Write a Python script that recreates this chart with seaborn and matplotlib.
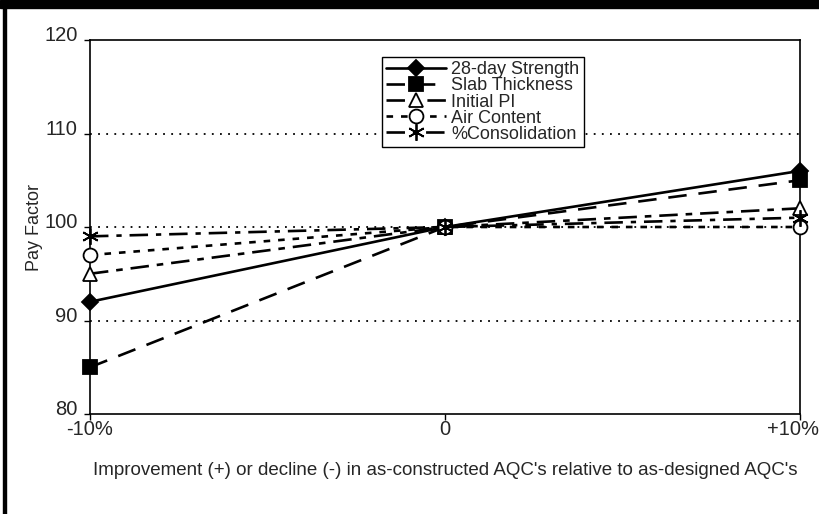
#!/usr/bin/env python3

import matplotlib.pyplot as plt
import matplotlib.patches as mpatches
import matplotlib.transforms as mtransforms
import numpy as np
import pandas as pd
import seaborn as sns

sns.set_style("white")
plt.rcParams['font.family'] = ['Liberation Sans', 'DejaVu Sans']

# data
x_pos = [-10, 0, 10]
x_labels = ['-10%', '0', '+10%']
strength = [92, 100, 106]
slab = [85, 100, 105]
initial_pi = [95, 100, 102]
air = [97, 100, 100]
consolidation = [99, 100, 101]

series = ['28-day Strength', 'Slab Thickness', 'Initial PI', 'Air Content', '%Consolidation']
values = [strength, slab, initial_pi, air, consolidation]

df = pd.DataFrame({
    'x': x_pos * len(series),
    'pay': np.concatenate(values),
    'series': np.repeat(series, len(x_pos)),
})

styles = {
    '28-day Strength': dict(ls='-', marker='D', mfc='black', ms=8.5),
    'Slab Thickness': dict(ls=(0, (7, 4.5)), marker='s', mfc='black', ms=9.5),
    'Initial PI': dict(ls=(0, (7, 3, 2.5, 3)), marker='^', mfc='white', ms=10),
    'Air Content': dict(ls=(0, (2.5, 3)), marker='o', mfc='white', ms=10),
    '%Consolidation': dict(ls=(0, (7, 3, 2, 3)), marker=(6, 2, 0), mfc='black', ms=12),
}

fig = plt.figure(figsize=(8.2, 5.14), dpi=100)
ax = fig.add_axes([90 / 820, 1 - 414 / 514, 710 / 820, 374 / 514])

# dotted gridlines
for g in [90, 100, 110]:
    ax.axhline(g, color='black', lw=1.3, ls=(0, (1, 3.5)), zorder=1)

for name in series:
    st = styles[name]
    sns.lineplot(ax=ax, data=df[df['series'] == name], x='x', y='pay',
                 color='black', lw=1.9, linestyle=st['ls'], marker=st['marker'],
                 markersize=st['ms'], markerfacecolor=st['mfc'],
                 markeredgecolor='black', markeredgewidth=1.3,
                 label=name, zorder=3, clip_on=False)

ax.set_xlim(-10, 10)
ax.set_ylim(80, 120)
ax.set_xticks(x_pos)
ax.set_xticklabels(x_labels)
ax.set_yticks([80, 90, 100, 110, 120])
ax.tick_params(axis='both', labelsize=14.5, length=4, width=1, color='black',
               direction='out', bottom=True, left=True)
ax.tick_params(axis='x', pad=0)
ax.tick_params(axis='y', pad=5)
for s in ax.spines.values():
    s.set_color('black')
    s.set_linewidth(1.2)

# y labels sit a little above their ticks, last x label pulled in from the edge
up = mtransforms.ScaledTranslation(0, 6 / 100, fig.dpi_scale_trans)
for lab in ax.get_yticklabels():
    lab.set_transform(lab.get_transform() + up)
left = mtransforms.ScaledTranslation(-7 / 100, 0, fig.dpi_scale_trans)
xl = ax.get_xticklabels()[-1]
xl.set_transform(xl.get_transform() + left)

ax.set_ylabel('Pay Factor', fontsize=13, labelpad=1)
ax.set_xlabel("Improvement (+) or decline (-) in as-constructed AQC's relative to as-designed AQC's",
              fontsize=13.5, labelpad=17)

leg = ax.legend(loc='upper left', bbox_to_anchor=(0.411, 0.955), borderaxespad=0,
                fontsize=13, labelspacing=-0.05, handlelength=3.3, handletextpad=0.3,
                borderpad=0.25, fancybox=False, framealpha=1, edgecolor='black')
leg.get_frame().set_linewidth(1.0)

# figure border: thick black band on top, thin line on left
fig.add_artist(mpatches.Rectangle((0, 1 - 8 / 514), 1, 8 / 514, transform=fig.transFigure,
                                  color='black', zorder=10))
fig.add_artist(mpatches.Rectangle((3 / 820, 0), 3 / 820, 1, transform=fig.transFigure,
                                  color='black', zorder=10))

plt.savefig("out.png", dpi=100)
